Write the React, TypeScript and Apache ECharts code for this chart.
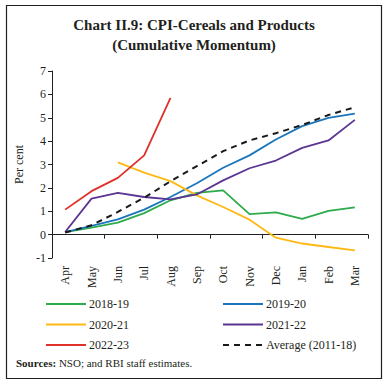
import React, { useEffect, useRef } from "react";
import * as echarts from "echarts";

const months = ["Apr", "May", "Jun", "Jul", "Aug", "Sep", "Oct", "Nov", "Dec", "Jan", "Feb", "Mar"];
const s2018 = [0.11, 0.3, 0.51, 0.92, 1.47, 1.79, 1.89, 0.88, 0.95, 0.67, 1.02, 1.17];
const s2019 = [0.11, 0.37, 0.65, 1.07, 1.61, 2.2, 2.86, 3.39, 4.07, 4.64, 4.99, 5.18];
const s2020 = [null, null, 3.09, 2.65, 2.29, 1.68, 1.18, 0.64, -0.13, -0.38, -0.53, -0.67];
const s2021 = [0.11, 1.54, 1.79, 1.61, 1.51, 1.72, 2.32, 2.84, 3.17, 3.71, 4.03, 4.91];
const s2022 = [1.07, 1.86, 2.43, 3.39, 5.85, null, null, null, null, null, null, null];
const sAvg = [0.09, 0.4, 0.97, 1.58, 2.28, 2.93, 3.57, 4.03, 4.34, 4.69, 5.12, 5.45];

const FONT = "Liberation Serif";

export default function App() {
  const ref = useRef<HTMLDivElement>(null);
  useEffect(() => {
    document.body.style.margin = "0";
    const chart = echarts.init(ref.current!, null, { renderer: "svg" });
    const mk = (name: string, data: any[], color: string, dashed = false) => ({
      name,
      type: "line",
      data,
      symbol: "none",
      connectNulls: false,
      xAxisIndex: 0,
      lineStyle: { color, width: dashed ? 2 : 1.8, type: dashed ? [6, 5] : "solid" },
      itemStyle: { color: dashed ? "#1a1a1a" : color },
      z: dashed ? 5 : 3,
    });
    const legendCommon = {
      orient: "vertical",
      top: 293,
      itemWidth: 40,
      itemHeight: 12,
      itemGap: 8.5,
      itemStyle: { opacity: 0 },
      textStyle: { fontFamily: FONT, fontSize: 12, color: "#231f20", padding: [0, 0, 0, -2] },
    };
    chart.setOption({
      animation: false,
      textStyle: { fontFamily: FONT, color: "#231f20" },
      title: {
        text: "Chart II.9: CPI-Cereals and Products\n(Cumulative Momentum)",
        left: "center",
        top: 10,
        textStyle: { fontFamily: FONT, fontSize: 15, fontWeight: "bold", lineHeight: 20, color: "#231f20" },
      },
      grid: { left: 52, right: 20, top: 71, bottom: 127, containLabel: false },
      legend: [
        { ...legendCommon, left: 40, data: ["2018-19", "2020-21", "2022-23"] },
        { ...legendCommon, left: 217, data: ["2019-20", "2021-22", "Average (2011-18)"] },
      ],
      xAxis: [
        {
          type: "category",
          data: months,
          position: "bottom",
          axisLine: { onZero: true, lineStyle: { color: "#231f20", width: 1 } },
          axisTick: { show: true, length: 4, inside: false, lineStyle: { color: "#231f20" } },
          axisLabel: { show: false },
        },
        {
          type: "category",
          data: months,
          position: "bottom",
          axisLine: { show: false, onZero: false },
          axisTick: { show: false },
          axisLabel: { rotate: 90, margin: 8, fontSize: 12, fontFamily: FONT, color: "#231f20" },
        },
      ],
      yAxis: {
        type: "value",
        min: -1,
        max: 7,
        interval: 1,
        name: "Per cent",
        nameLocation: "middle",
        nameGap: 18,
        nameTextStyle: { fontFamily: FONT, fontSize: 12, color: "#231f20" },
        axisLine: { show: true, lineStyle: { color: "#231f20", width: 1 } },
        axisTick: { show: true, length: 4, lineStyle: { color: "#231f20" } },
        axisLabel: { fontSize: 12, fontFamily: FONT, color: "#231f20", margin: 6 },
        splitLine: { show: false },
      },
      series: [
        mk("2018-19", s2018, "#2eab4b"),
        mk("2019-20", s2019, "#1b75bb"),
        mk("2020-21", s2020, "#fdb913"),
        mk("2021-22", s2021, "#5b3593"),
        mk("2022-23", s2022, "#e0302a"),
        mk("Average (2011-18)", sAvg, "#1a1a1a", true),
      ],
      graphic: [
        {
          type: "rect",
          shape: { x: 6.5, y: 5.5, width: 375, height: 373 },
          style: { fill: "none", stroke: "#231f20", lineWidth: 1.2 },
          silent: true,
        },
        {
          type: "text",
          left: 16,
          top: 357,
          style: {
            text: "{b|Sources:} NSO; and RBI staff estimates.",
            fontFamily: FONT,
            fontSize: 11,
            fill: "#231f20",
            rich: { b: { fontWeight: "bold", fontFamily: FONT, fontSize: 11, fill: "#231f20" } },
          },
        },
      ],
    });
    return () => chart.dispose();
  }, []);
  return <div ref={ref} style={{ width: 388, height: 385 }} />;
}
